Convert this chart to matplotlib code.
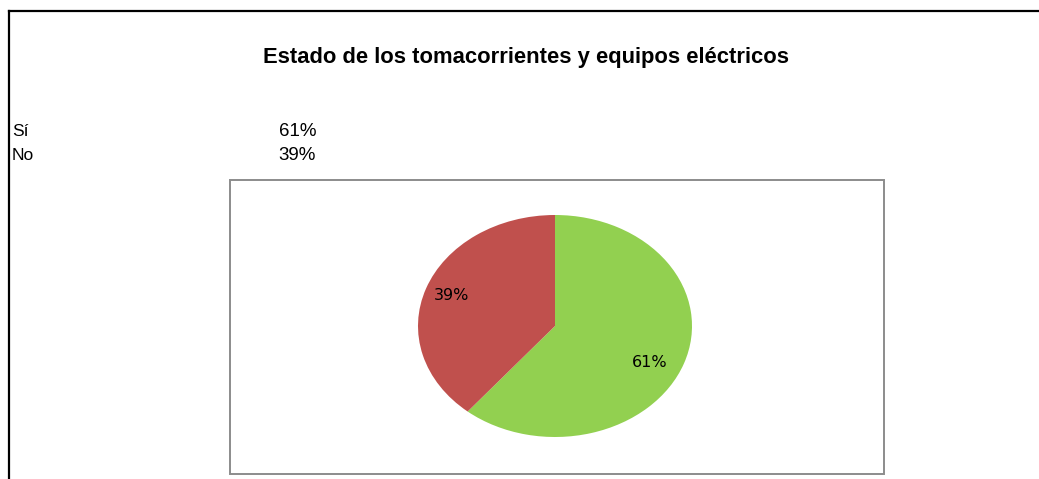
import matplotlib.pyplot as plt
from matplotlib.lines import Line2D
from matplotlib.patches import Rectangle

W, H = 1039, 479

title = "Estado de los tomacorrientes y equipos eléctricos"
categories = ["Sí", "No"]
values = [61, 39]
value_labels = ["61%", "39%"]
colors = ["#92D050", "#C0504D"]


def fx(px):
    return px / W


def fy(py):
    return 1 - py / H


fig = plt.figure(figsize=(W / 100, H / 100), dpi=100)
fig.patch.set_facecolor("white")

# outer sheet border (top and left only)
fig.add_artist(Line2D([fx(9), fx(1039)], [fy(11), fy(11)], color="black", lw=1.6))
fig.add_artist(Line2D([fx(9), fx(9)], [fy(11), fy(479)], color="black", lw=1.6))

# plot area box
fig.add_artist(Rectangle((fx(230), fy(474)), fx(884) - fx(230), fy(180) - fy(474),
                         fill=False, edgecolor="#8c8c8c", lw=1.4))

fig.text(fx(526), fy(58), title, ha="center", va="center",
         fontsize=15.8, fontweight="bold", family="Liberation Sans")

for i, (cat, lab) in enumerate(zip(categories, value_labels)):
    y = fy(131 + 24 * i)
    fig.text(fx(12), y, cat, ha="left", va="center", fontsize=12.5, family="Liberation Sans")
    fig.text(fx(316), y, lab, ha="right", va="center", fontsize=13.5, family="Liberation Sans")

ax = fig.add_axes([fx(418), fy(437), fx(692) - fx(418), fy(215) - fy(437)])
wedges, texts, autotexts = ax.pie(values, colors=colors, startangle=90, counterclock=False,
                                  autopct="%1.0f%%", pctdistance=0.8,
                                  wedgeprops=dict(edgecolor="none"),
                                  textprops=dict(fontsize=11.5, family="DejaVu Sans", color="black"))
ax.set_aspect("auto")
ax.set_xlim(-1, 1)
ax.set_ylim(-1, 1)
# nudge the green label slightly lower, as in the reference
x0, y0 = autotexts[0].get_position()
autotexts[0].set_position((x0 * 0.92, y0 * 1.2))

fig.savefig("out.png", dpi=100, facecolor="white")
